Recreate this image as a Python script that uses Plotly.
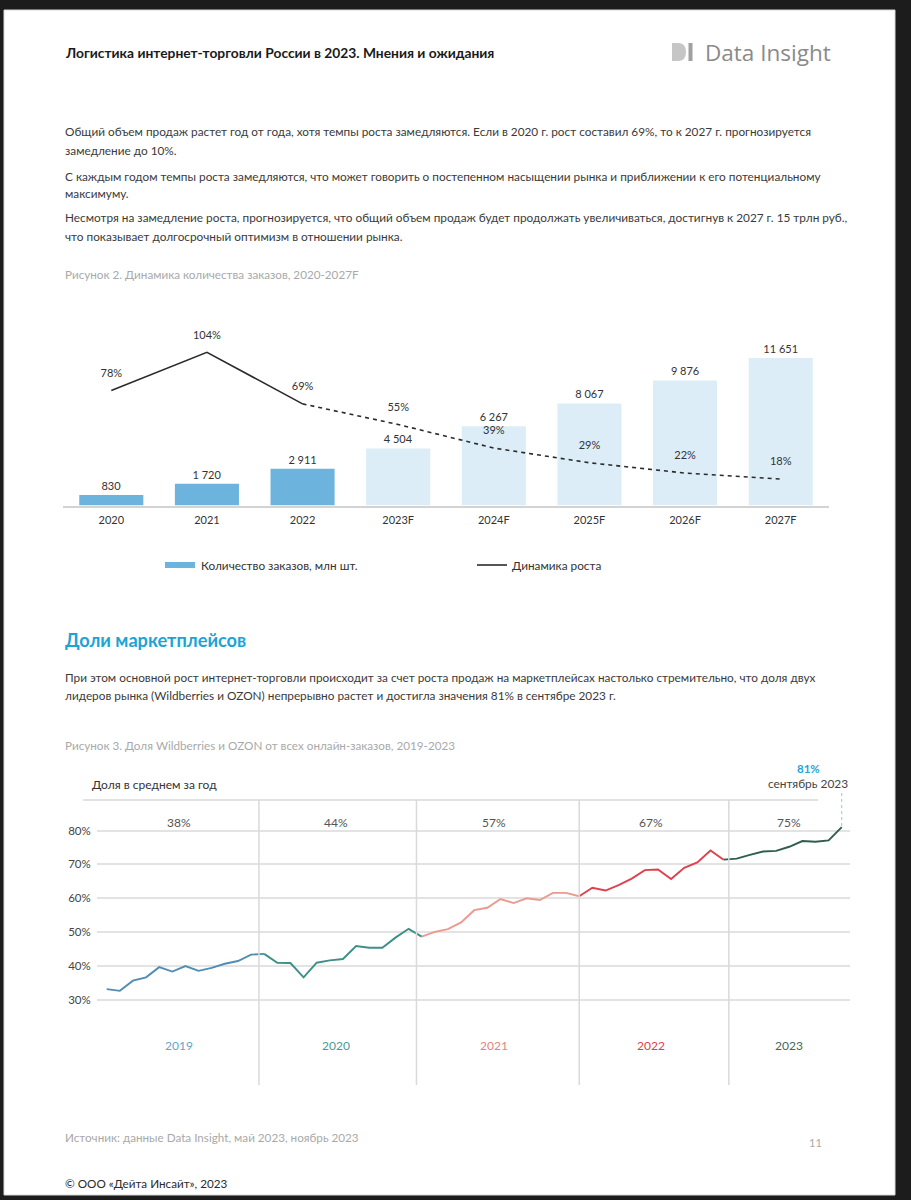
import plotly.graph_objects as go

W, H = 911, 1200
FONT = "Lato"


def px(x):
    return x / W


def py(y):
    return 1 - y / H


# ---------------- Data: Figure 2 ----------------
categories = ["2020", "2021", "2022", "2023F", "2024F", "2025F", "2026F", "2027F"]
orders = [830, 1720, 2911, 4504, 6267, 8067, 9876, 11651]
growth = [78, 104, 69, 55, 39, 29, 22, 18]
growth_labels = [f"{v}%" for v in growth]

# ---------------- Data: Figure 3 ----------------
years = ["2019", "2020", "2021", "2022", "2023"]
share_2019 = [33.2, 32.7, 35.7, 36.7, 39.7, 38.4, 40.0, 38.6, 39.5, 40.7, 41.5, 43.4]
share_2020 = [43.6, 41.0, 40.9, 36.7, 41.0, 41.7, 42.1, 45.9, 45.4, 45.4, 48.4, 51.0]
share_2021 = [48.7, 50.1, 50.9, 52.9, 56.5, 57.2, 59.8, 58.6, 60.0, 59.5, 61.6, 61.6]
share_2022 = [60.6, 63.1, 62.3, 63.9, 65.8, 68.3, 68.5, 65.7, 69.0, 70.6, 74.1, 71.4]
share_2023 = [71.7, 72.8, 73.8, 74.0, 75.2, 76.9, 76.7, 77.1, 81.0]
year_avg = [38, 44, 57, 67, 75]
share_ticks = [30, 40, 50, 60, 70, 80]
yearly = [share_2019, share_2020, share_2021, share_2022, share_2023]

line_colors = ["#4f8db3", "#3e8f88", "#ea9a8e", "#e0404e", "#2f5e50"]
label_colors = ["#62a6cb", "#4a9995", "#e48579", "#e0404e", "#3d6b5d"]

ACTUAL = "#6cb4de"
FORECAST = "#dcedf7"

fig = go.Figure()

# ---- Figure 2 bars ----
bar_colors = [FORECAST if c.endswith("F") else ACTUAL for c in categories]
fig.add_trace(go.Bar(
    x=categories, y=orders, marker=dict(color=bar_colors, line=dict(width=0)),
    width=0.67, texttemplate="%{y:,}", textposition="outside",
    textfont=dict(size=11, color="#333333", family=FONT), cliponaxis=False,
    xaxis="x", yaxis="y", showlegend=False, hoverinfo="skip"))

# ---- Figure 2 growth line (actual solid, forecast dashed) ----
n_act = sum(1 for c in categories if not c.endswith("F"))
fig.add_trace(go.Scatter(
    x=categories[:n_act], y=growth[:n_act], mode="lines",
    line=dict(color="#2b2b2b", width=1.6), xaxis="x", yaxis="y2",
    showlegend=False, hoverinfo="skip"))
fig.add_trace(go.Scatter(
    x=categories[n_act - 1:], y=growth[n_act - 1:], mode="lines",
    line=dict(color="#2b2b2b", width=1.6, dash="4px,4px"), xaxis="x", yaxis="y2",
    showlegend=False, hoverinfo="skip"))
fig.add_trace(go.Scatter(
    x=categories, y=growth, mode="markers+text", text=growth_labels,
    textposition="top center", marker=dict(size=16, color="rgba(0,0,0,0)"),
    textfont=dict(size=11, color="#333333", family=FONT), cliponaxis=False,
    xaxis="x", yaxis="y2", showlegend=False, hoverinfo="skip"))

# ---- Figure 3 lines ----
start = 0
starts = []
for vals in yearly:
    starts.append(start)
    start += len(vals)
all_vals = [v for vals in yearly for v in vals]
all_idx = list(range(len(all_vals)))
for k, vals in enumerate(yearly):
    s = starts[k]
    e = s + len(vals)
    if k < 3:          # connector drawn in this year's colour
        e = min(e + 1, len(all_vals))
    if k == 4:         # connector from previous December in this year's colour
        s = s - 1
    fig.add_trace(go.Scatter(
        x=all_idx[s:e], y=all_vals[s:e], mode="lines",
        line=dict(color=line_colors[k], width=1.9), xaxis="x2", yaxis="y3",
        showlegend=False, hoverinfo="skip"))

# ---------------- Layout ----------------
shapes = []
annotations = []

# page
shapes.append(dict(type="rect", xref="paper", yref="paper", x0=px(4), x1=px(895),
                   y0=py(1195), y1=py(10), fillcolor="white",
                   line=dict(color="#d8d8d8", width=1), layer="below"))


def text(x, y, s, size=11, color="#333333", anchor="left", bold=False, family=FONT):
    if bold:
        s = f"<b>{s}</b>"
    annotations.append(dict(x=px(x), y=py(y), xref="paper", yref="paper", text=s,
                            showarrow=False, xanchor=anchor, yanchor="middle",
                            font=dict(size=size, color=color, family=family)))


# header
text(63, 52, "Логистика интернет-торговли России в 2023. Мнения и ожидания", size=13.8,
     color="#1a1a1a", bold=True)
d_path = (f"M {px(672)},{py(43)} L {px(678)},{py(43)} "
          f"Q {px(686)},{py(43)} {px(686)},{py(52)} "
          f"Q {px(686)},{py(61)} {px(678)},{py(61)} L {px(672)},{py(61)} Z")
shapes.append(dict(type="path", xref="paper", yref="paper", path=d_path,
                   fillcolor="#c6c6c6", line=dict(width=0)))
shapes.append(dict(type="rect", xref="paper", yref="paper", x0=px(688.5), x1=px(692.5),
                   y0=py(61), y1=py(43), fillcolor="#a0a0a0", line=dict(width=0)))
text(703, 52, "Data Insight", size=22.5, color="#8a8a8a", family="Open Sans")

# paragraphs
para_color = "#3a3a3a"
PS = 11.8
text(63, 132, "Общий объем продаж растет год от года, хотя темпы роста замедляются. Если в 2020 г. рост составил 69%, то к 2027 г. прогнозируется", size=PS, color=para_color)
text(63, 150, "замедление до 10%.", size=PS, color=para_color)
text(63, 176, "С каждым годом темпы роста замедляются, что может говорить о постепенном насыщении рынка и приближении к его потенциальному", size=PS, color=para_color)
text(63, 194, "максимуму.", size=PS, color=para_color)
text(63, 218, "Несмотря на замедление роста, прогнозируется, что общий объем продаж будет продолжать увеличиваться, достигнув к 2027 г. 15 трлн руб.,", size=PS, color=para_color)
text(63, 236, "что показывает долгосрочный оптимизм в отношении рынка.", size=PS, color=para_color)
text(63, 274, "Рисунок 2. Динамика количества заказов, 2020-2027F", size=11.7, color="#a9a9a9")

# legend figure 2
shapes.append(dict(type="rect", xref="paper", yref="paper", x0=px(165), x1=px(195),
                   y0=py(568), y1=py(562), fillcolor=ACTUAL, line=dict(width=0)))
text(199, 565, "Количество заказов, млн шт.", size=11.8)
shapes.append(dict(type="line", xref="paper", yref="paper", x0=px(477), x1=px(507),
                   y0=py(565), y1=py(565), line=dict(color="#2b2b2b", width=1.6)))
text(510, 565, "Динамика роста", size=11.8)

# section 2
text(63, 640, "Доли маркетплейсов", size=18.2, color="#1ba4d6", bold=True)
text(63, 677, "При этом основной рост интернет-торговли происходит за счет роста продаж на маркетплейсах настолько стремительно, что доля двух", size=PS, color=para_color)
text(63, 695, "лидеров рынка (Wildberries и OZON) непрерывно растет и достигла значения 81% в сентябре 2023 г.", size=PS, color=para_color)
text(63, 745, "Рисунок 3. Доля Wildberries и OZON от всех онлайн-заказов, 2019-2023", size=11.7, color="#a9a9a9")

# figure 3 decorations
text(90, 784, "Доля в среднем за год", size=12, color="#333333")
shapes.append(dict(type="line", xref="paper", yref="paper", x0=px(83), x1=px(818),
                   y0=py(800), y1=py(800), line=dict(color="#d9d9d9", width=1.5)))
sep_idx = [11.6, 23.6, 36.0, 47.4]
for s in sep_idx:
    shapes.append(dict(type="line", xref="x2", yref="paper", x0=s, x1=s,
                       y0=py(1085), y1=py(800), line=dict(color="#d9d9d9", width=1.5)))
for k, vals in enumerate(yearly):
    mid = starts[k] + (len(vals) - 1) / 2
    annotations.append(dict(x=mid, y=py(822), xref="x2", yref="paper",
                            text=f"{year_avg[k]}%", showarrow=False,
                            xanchor="center", yanchor="middle",
                            font=dict(size=12, color="#555555", family=FONT)))
    annotations.append(dict(x=mid, y=py(1045), xref="x2", yref="paper",
                            text=years[k], showarrow=False,
                            xanchor="center", yanchor="middle",
                            font=dict(size=12, color=label_colors[k], family=FONT)))

# last point call-out
last_i = all_idx[-1]
shapes.append(dict(type="line", xref="x2", yref="paper", x0=last_i, x1=last_i,
                   y0=py(826), y1=py(790), line=dict(color="#8cc8e2", width=1, dash="dot")))
text(808, 768, f"{int(round(all_vals[-1]))}%", size=11.5, color="#1fa5d8", anchor="center", bold=True)
text(808, 783, "сентябрь 2023", size=11.9, color="#444444", anchor="center")

# footer
text(63, 1137, "Источник: данные Data Insight, май 2023, ноябрь 2023", size=11.7, color="#a9a9a9")
text(815, 1142, "11", size=11, color="#a9a9a9", anchor="center")
text(63, 1183, "© ООО «Дейта Инсайт», 2023", size=11.7, color="#2a2a2a")

bar_top_px = 330
base_px = 505.5
fig.update_layout(
    width=W, height=H, margin=dict(l=0, r=0, t=0, b=0),
    paper_bgcolor="#1c1c1c", plot_bgcolor="rgba(0,0,0,0)",
    separators=", ", showlegend=False, font=dict(family=FONT),
    bargap=0.33,
    xaxis=dict(domain=[px(63), px(829)], anchor="y", type="category",
               showline=True, linecolor="#d3d3d3", linewidth=1.5, showgrid=False,
               zeroline=False, ticks="outside", ticklen=4, tickcolor="rgba(0,0,0,0)",
               tickfont=dict(size=11, color="#333333", family=FONT), fixedrange=True),
    yaxis=dict(domain=[py(base_px), py(bar_top_px)], range=[0, (base_px - bar_top_px) * 79.0],
               visible=False, fixedrange=True),
    yaxis2=dict(overlaying="y", range=[0, (base_px - bar_top_px) / 1.473], visible=False,
                fixedrange=True),
    xaxis2=dict(domain=[px(97), px(850)], anchor="y3", range=[-0.739, 56.63],
                visible=False, fixedrange=True),
    yaxis3=dict(domain=[py(1085), py(800)], anchor="x2", range=[4.93, 89.0],
                tickmode="array", tickvals=share_ticks,
                ticktext=[f"{v}%" for v in share_ticks],
                showgrid=True, gridcolor="#e3e3e3", gridwidth=1.5, zeroline=False,
                showline=False, ticks="outside", ticklen=3, tickcolor="rgba(0,0,0,0)",
                tickfont=dict(size=11.5, color="#444444", family=FONT), fixedrange=True),
    shapes=shapes, annotations=annotations,
)

fig.write_html(
    "out.html",
    config={"displayModeBar": False},
    post_script="document.body.style.margin='0';document.body.style.background='#1c1c1c';",
)
